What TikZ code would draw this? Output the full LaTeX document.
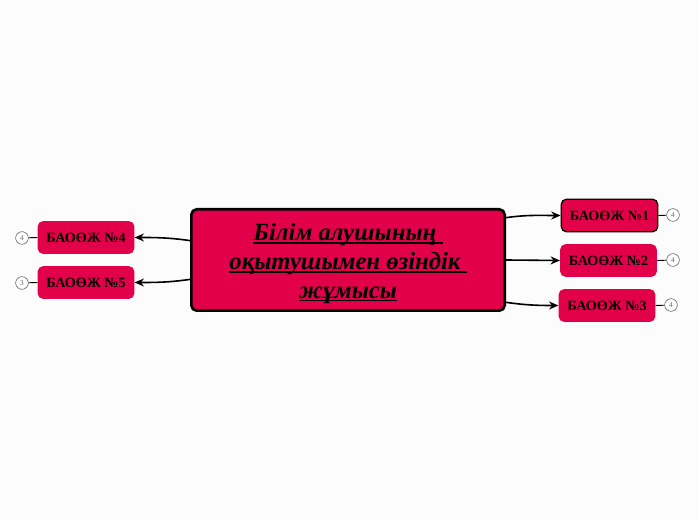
\documentclass[tikz,border=0pt]{standalone}
\usepackage{fontspec}
\setmainfont{Liberation Serif}
\usepackage{xcolor}
\usetikzlibrary{arrows.meta}
\definecolor{topicred}{RGB}{227,0,75}
\definecolor{pagebg}{RGB}{252,252,252}
\newcommand\topicul[1]{\setbox0\hbox{#1}\rlap{\rule[-2.4pt]{\wd0}{1.3pt}}\box0}

\begin{document}
\begin{tikzpicture}[x=0.75pt,y=-0.75pt,
  topic/.style={fill=topicred, rounded corners=4pt, minimum width=72.5pt, minimum height=24.5pt,
    inner sep=0pt, font=\bfseries\fontsize{10.6}{12}\selectfont},
  count/.style={circle, draw=black!65, fill=white, minimum size=9.5pt, inner sep=0pt,
    font=\fontsize{5.5}{6}\selectfont, text=black!60},
  link/.style={-{Stealth[length=7pt,width=6pt]}, line width=1.2pt}]
\fill[pagebg] (0,0) rectangle (697,520);
% central topic
\node[fill=topicred, draw=black, line width=2pt, rounded corners=4pt, minimum width=235pt,
  minimum height=76pt, align=center, font=\bfseries\itshape\fontsize{18.5}{21.5}\selectfont]
  (main) at (348,260) {\rule{0pt}{18pt}\topicul{Білім алушының\ }\\\topicul{оқытушымен өзіндік\ }\\\topicul{жұмысы}};
% subtopics
\node[topic, draw=black, line width=0.9pt] (t1) at (609.5,215.5) {БАОӨЖ №1};
\node[topic] (t2) at (608.5,260.5) {БАОӨЖ №2};
\node[topic] (t3) at (607,305.5) {БАОӨЖ №3};
\node[topic] (t4) at (86,237.5) {БАОӨЖ №4};
\node[topic] (t5) at (86,282.5) {БАОӨЖ №5};
% counters
\node[count] (c1) at (673,215) {4};
\node[count] (c2) at (673,260) {4};
\node[count] (c3) at (671,305) {4};
\node[count] (c4) at (22,238) {4};
\node[count] (c5) at (22,283) {3};
\draw[line width=0.7pt] (t1.east) -- (c1) (t2.east) -- (c2) (t3.east) -- (c3)
  (t4.west) -- (c4) (t5.west) -- (c5);
% connectors
\draw[link] (main.15) to[out=8,in=180] (t1.west);
\draw[link] (main.east) -- (t2.west);
\draw[link] (main.-15) to[out=-8,in=180] (t3.west);
\draw[link] (main.173) to[out=172,in=0] (t4.east);
\draw[link] (main.187) to[out=188,in=0] (t5.east);
\end{tikzpicture}
\end{document}
